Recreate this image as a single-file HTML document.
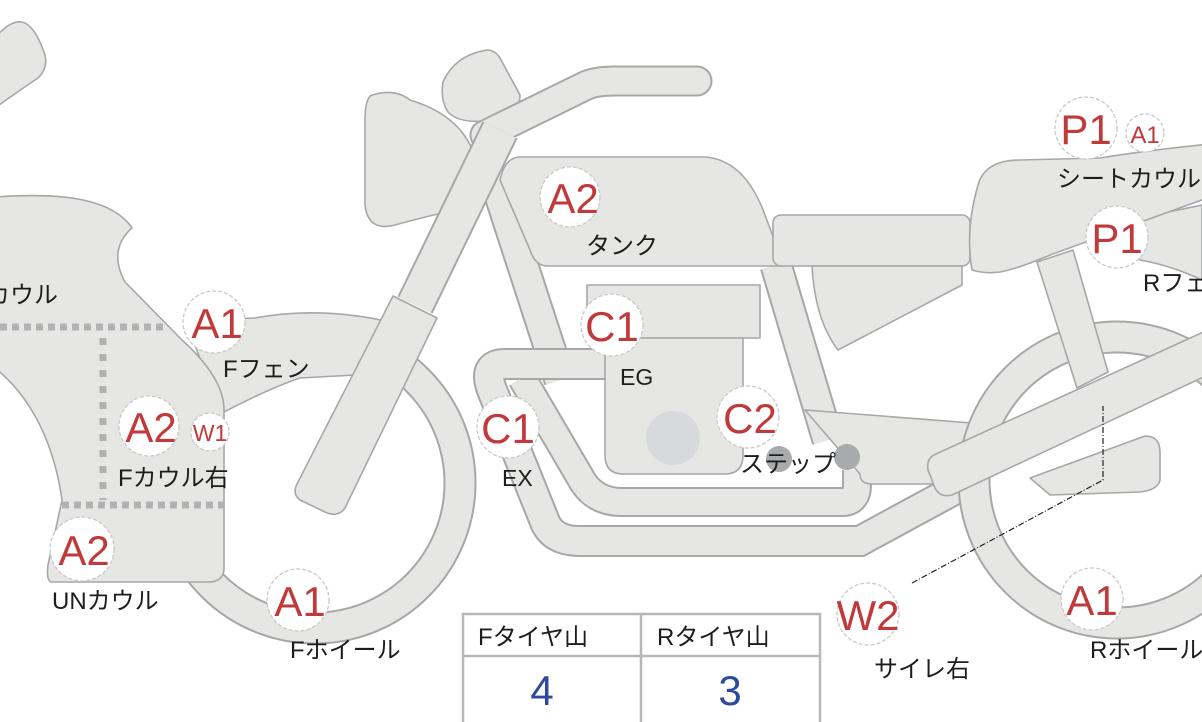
<!DOCTYPE html>
<html><head><meta charset="utf-8"><style>
html,body{margin:0;padding:0;background:#fff;}
svg{display:block;}
.s{fill:#e6e7e5;stroke:#a5a7a9;stroke-width:1.6;stroke-linejoin:round;}
.to{fill:none;stroke:#a5a7a9;}
.ti{fill:none;stroke:#e6e7e5;}
.lc{fill:#fff;stroke:#c9c9c9;stroke-width:1.3;stroke-dasharray:4 2;}
.r{fill:#c0393b;font-family:"Liberation Sans","DejaVu Sans",sans-serif;text-anchor:middle;}
.k{fill:#1d1d1d;font-family:"Liberation Sans","Noto Sans CJK JP",sans-serif;font-size:24px;}
</style></head><body>
<svg width="1202" height="722" viewBox="0 0 1202 722" xmlns="http://www.w3.org/2000/svg">
<!-- top-left blob -->
<path class="s" d="M-5,38 Q10,20 22,22 Q35,25 45,55 Q48,68 38,78 Q20,90 -5,108 Z"/>
<!-- front wheel ring -->
<circle cx="315" cy="483" r="145" class="to" stroke-width="33"/>
<circle cx="315" cy="483" r="145" class="ti" stroke-width="29"/>
<!-- front fender -->
<path class="s" d="M195,345 Q215,318 255,318 Q320,306 390,322 L410,372 L300,378 Q270,388 220,414 Z"/>
<!-- front fairing -->
<path class="s" d="M-5,197 C50,193 110,195 132,228 C118,240 112,258 125,282 L182,340 Q224,378 224,410 L224,568 Q224,582 208,582 L52,582 Q46,582 48,565 L62,500 C55,450 35,400 -5,368 Z"/>
<g fill="#b0b2b4">
<path d="M0,327 H165" stroke="#b0b2b4" stroke-width="7" stroke-dasharray="7 5" fill="none"/>
<path d="M103,338 V500" stroke="#b0b2b4" stroke-width="7" stroke-dasharray="7 9" fill="none"/>
<path d="M62,505 H224" stroke="#b0b2b4" stroke-width="7" stroke-dasharray="7 5" fill="none"/>
</g>
<!-- frame downtube -->
<path class="to" d="M495,180 L560,380" stroke-width="33"/>
<path class="ti" d="M495,180 L560,380" stroke-width="29"/>
<!-- rear frame tube behind tank -->
<path class="to" d="M776,265 L828,440" stroke-width="33"/>
<path class="ti" d="M776,265 L828,440" stroke-width="29"/>
<!-- headlight -->
<path class="s" d="M372,95 Q395,88 410,100 Q470,118 478,170 Q478,200 455,210 Q420,218 395,225 Q368,232 365,205 L365,120 Q365,98 372,95 Z"/>
<!-- grip blob -->
<path class="s" d="M443,82 Q455,55 487,50 Q495,50 500,58 L520,95 Q520,115 495,120 Q460,125 448,112 Q440,100 443,82 Z"/>
<!-- handlebar -->
<path class="to" d="M485,135 L585,86 Q595,81 615,81 L697,81" stroke-width="31" stroke-linecap="round"/>
<path class="ti" d="M485,135 L585,86 Q595,81 615,81 L697,81" stroke-width="27" stroke-linecap="round"/>
<!-- fork upper -->
<path class="to" d="M500,130 L415,305" stroke-width="39"/>
<path class="ti" d="M500,130 L415,305" stroke-width="35"/>
<!-- fork slider -->
<path class="s" d="M393,296 L437,318 L345,508 Q338,518 325,512 L300,500 Q292,494 297,484 Z"/>
<!-- pipes -->
<path class="to" d="M605,364 L505,364 Q482,364 492,390 L545,522 Q553,541 580,541 L860,541 L965,484" stroke-width="32"/>
<path class="ti" d="M605,364 L505,364 Q482,364 492,390 L545,522 Q553,541 580,541 L860,541 L965,484" stroke-width="28"/>
<path class="to" d="M522,378 L583,482 Q596,502 622,502 L842,502 Q857,502 857,485 L857,470" stroke-width="30"/>
<path class="ti" d="M522,378 L583,482 Q596,502 622,502 L842,502 Q857,502 857,485 L857,470" stroke-width="26"/>
<path class="to" d="M605,364 L520,364" stroke-width="32"/>
<path class="ti" d="M607,364 L515,364" stroke-width="28"/>
<!-- engine -->
<rect class="s" x="587" y="285" width="173" height="53"/>
<path class="s" d="M605,338 L743,338 L743,455 Q743,474 725,474 L623,474 Q605,474 605,455 Z"/>
<circle cx="673" cy="438" r="27" fill="#d8d9db"/>
<!-- tank -->
<path class="s" d="M520,157 L705,157 Q745,160 765,215 L784,266 L548,266 Q535,266 530,250 L500,180 Q505,157 520,157 Z"/>
<!-- seat mid -->
<rect class="s" x="773" y="215" width="197" height="51" rx="8"/>
<!-- side cover -->
<path class="s" d="M812,266 L962,266 L962,285 L838,350 Q815,320 812,266 Z"/>
<!-- step plate -->
<path class="s" d="M805,410 L1010,426 L940,470 L940,484 L872,484 Q860,484 860,474 Z"/>
<circle cx="779" cy="459" r="13" fill="#a9aaac"/>
<circle cx="847" cy="457" r="13" fill="#a9aaac"/>
<!-- rear wheel -->
<circle cx="1117" cy="480" r="143" class="to" stroke-width="33"/>
<circle cx="1117" cy="480" r="143" class="ti" stroke-width="29"/>
<!-- rear fender -->
<path class="s" d="M1120,222 L1202,205 L1202,280 Q1170,265 1140,260 Z"/>
<!-- rear strut -->
<path class="s" d="M1037,262 L1073,250 L1108,372 L1077,388 Z"/>
<!-- seat cowl -->
<path class="s" d="M972,270 Q965,230 978,185 Q985,160 1020,160 L1100,158 Q1150,150 1210,144 L1210,197 L1050,255 Q1020,268 1000,272 Q985,274 972,270 Z"/>
<!-- muffler lower -->
<path class="s" d="M1030,478 L1145,436 Q1160,436 1160,452 L1160,480 Q1158,490 1140,492 L1050,495 Z"/>
<!-- swingarm -->
<path class="s" d="M936,454 L1210,329 L1210,374 L952,495 Q940,498 935,488 L928,470 Q926,458 936,454 Z"/>
<!-- leader line -->
<path d="M912,583 L1103,480 L1103,406" fill="none" stroke="#222" stroke-width="1.2" stroke-dasharray="6 2 1 2"/>

<!-- labels -->
<g>
<circle class="lc" cx="570" cy="197" r="30"/><text class="r" x="573" y="213" font-size="42">A2</text>
<circle class="lc" cx="612" cy="325" r="31"/><text class="r" x="612" y="341" font-size="42">C1</text>
<circle class="lc" cx="214" cy="322" r="31"/><text class="r" x="217" y="338" font-size="42">A1</text>
<circle class="lc" cx="149" cy="426" r="30"/><text class="r" x="151" y="442" font-size="42">A2</text>
<circle class="lc" cx="210" cy="432" r="19"/><text class="r" x="210" y="441" font-size="23">W1</text>
<circle class="lc" cx="82" cy="549" r="32"/><text class="r" x="84" y="565" font-size="42">A2</text>
<circle class="lc" cx="298" cy="600" r="31"/><text class="r" x="300" y="616" font-size="42">A1</text>
<circle class="lc" cx="508" cy="427" r="31"/><text class="r" x="508" y="443" font-size="42">C1</text>
<circle class="lc" cx="748" cy="417" r="31"/><text class="r" x="750" y="433" font-size="42">C2</text>
<circle class="lc" cx="868" cy="614" r="31"/><text class="r" x="868" y="630" font-size="42">W2</text>
<circle class="lc" cx="1092" cy="599" r="31"/><text class="r" x="1092" y="615" font-size="42">A1</text>
<circle class="lc" cx="1086" cy="128" r="31"/><text class="r" x="1086" y="144" font-size="42">P1</text>
<circle class="lc" cx="1145" cy="133" r="19"/><text class="r" x="1145" y="143" font-size="24">A1</text>
<circle class="lc" cx="1117" cy="237" r="31"/><text class="r" x="1117" y="253" font-size="42">P1</text>
</g>
<g class="k">
<text x="-14" y="303">カウル</text>
<text x="586" y="254">タンク</text>
<text x="620" y="385" font-size="23">EG</text>
<text x="223" y="377">Fフェン</text>
<text x="118" y="486">Fカウル右</text>
<text x="52" y="609">UNカウル</text>
<text x="290" y="658">Fホイール</text>
<text x="502" y="486" font-size="23">EX</text>
<text x="740" y="472">ステップ</text>
<text x="874" y="677">サイレ右</text>
<text x="1090" y="658">Rホイール</text>
<text x="1057" y="187">シートカウル</text>
<text x="1143" y="291">Rフェンダー</text>
</g>
<!-- table -->
<rect x="463" y="614" width="357" height="110" fill="#fff" stroke="#b5b7b9" stroke-width="2.5"/>
<line x1="463" y1="656" x2="820" y2="656" stroke="#b5b7b9" stroke-width="2.5"/>
<line x1="641" y1="614" x2="641" y2="722" stroke="#b5b7b9" stroke-width="2.5"/>
<text class="k" x="478" y="645">Fタイヤ山</text>
<text class="k" x="657" y="645">Rタイヤ山</text>
<text x="542" y="705" font-size="42" fill="#2e4a9e" text-anchor="middle" font-family="Liberation Sans, sans-serif">4</text>
<text x="730" y="705" font-size="42" fill="#2e4a9e" text-anchor="middle" font-family="Liberation Sans, sans-serif">3</text>
</svg>
</body></html>
